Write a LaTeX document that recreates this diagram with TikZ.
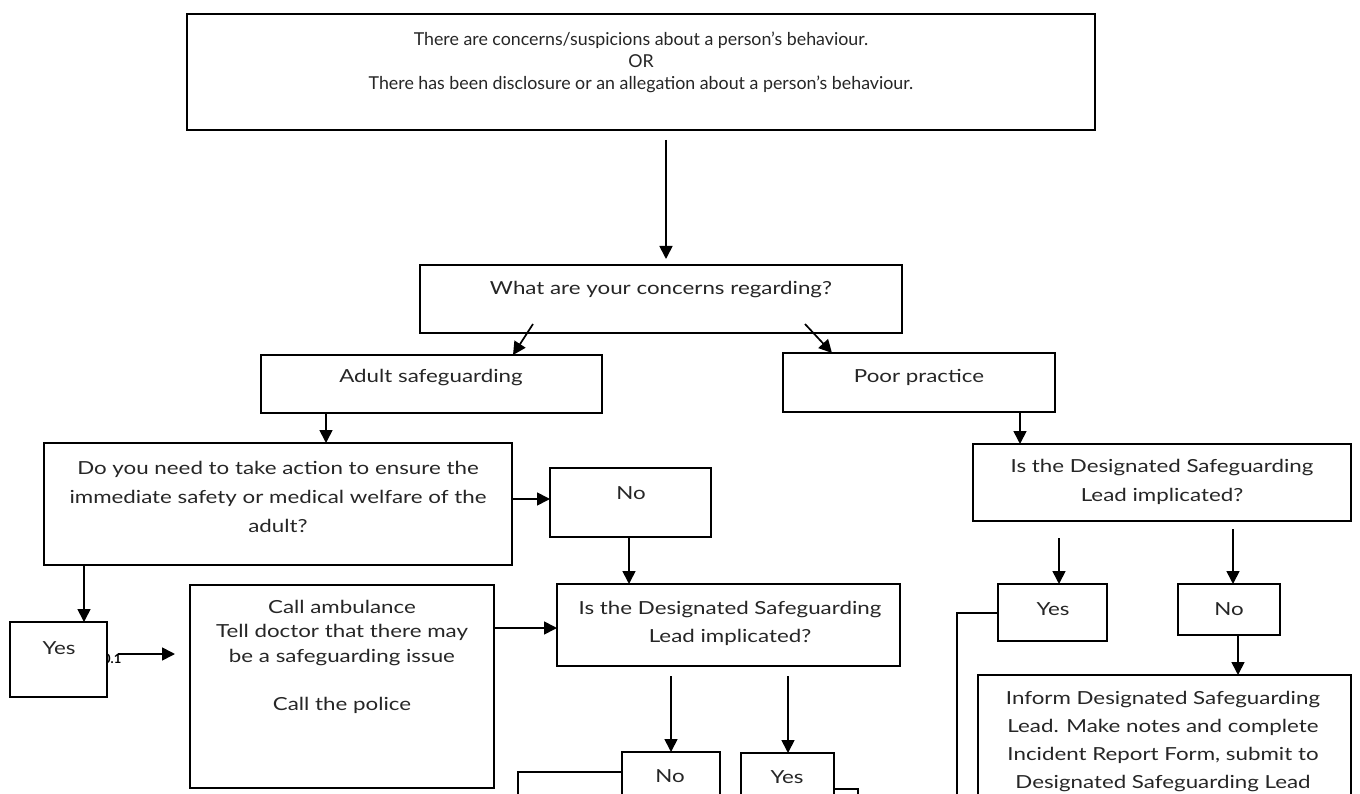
\documentclass[tikz,border=0pt]{standalone}
\usepackage{fontspec}
\setmainfont{Lato}[FakeStretch=1.24]
\newfontfamily\topfont{Lato}
\usetikzlibrary{arrows.meta}
\newcommand\bx[5]{\node[box, minimum width={#4-#2}, minimum height={#5-#3}] (#1) at ({(#2+#4)/2},{(#3+#5)/2}) {};}
\begin{document}
\begin{tikzpicture}[x=1pt,y=-1pt,
  box/.style={draw, line width=1.6pt, fill=white, inner sep=0pt, outer sep=0pt},
  txt/.style={align=center, inner sep=0pt, text=black!85},
  arr/.style={line width=1.7pt, -{Triangle[length=13pt,width=13pt]}},
  ln/.style={line width=1.6pt}]
\useasboundingbox (0,0) rectangle (1360,794);
\fill[white] (0,0) rectangle (1360,794);
% small label partly hidden by the Yes box
\node[inner sep=0pt, anchor=base west, font=\topfont\fontsize{13}{14}\selectfont\bfseries] (lbl) at (103,663) {0.1};
% boxes
\bx{top}{187}{14}{1095}{130}
\bx{what}{420}{265}{902}{333}
\bx{adult}{261}{355}{602}{413}
\bx{poor}{783}{353}{1055}{412}
\bx{do}{44}{443}{512}{565}
\bx{noa}{550}{468}{711}{537}
\bx{yesa}{10}{622}{107}{697}
\bx{call}{190}{585}{494}{788}
\bx{dsla}{557}{584}{900}{666}
\bx{nob}{622}{752}{720}{830}
\bx{yesb}{741}{753}{834}{830}
\bx{dslb}{973}{444}{1351}{521}
\bx{yesc}{998}{584}{1107}{641}
\bx{noc}{1178}{584}{1280}{635}
\bx{inform}{978}{675}{1351}{840}
% texts
\node[txt, font=\topfont\fontsize{17.8}{22}\selectfont] (ttop) at (641,62) {There are concerns/suspicions about a person’s behaviour.\\OR\\There has been disclosure or an allegation about a person’s behaviour.};
\node[txt, font=\fontsize{18}{29}\selectfont] (twhat) at (661,290) {What are your concerns regarding?};
\node[txt, font=\fontsize{18}{29}\selectfont] (tadult) at (431,378) {Adult safeguarding};
\node[txt, font=\fontsize{18}{29}\selectfont] (tpoor) at (919,377) {Poor practice};
\node[txt, font=\fontsize{18}{29}\selectfont] (tdo) at (278,497) {Do you need to take action to ensure the\\immediate safety or medical welfare of the\\adult?};
\node[txt, font=\fontsize{18}{29}\selectfont] (tnoa) at (631,493) {No};
\node[txt, font=\fontsize{18}{29}\selectfont] (tyesa) at (59,648) {Yes};
\node[txt, font=\fontsize{18}{24.3}\selectfont] (tcall) at (342,657) {Call ambulance\\Tell doctor that there may\\be a safeguarding issue\\[24.3pt]Call the police};
\node[txt, font=\fontsize{18}{28}\selectfont] (tdsla) at (730,623) {Is the Designated Safeguarding\\Lead implicated?};
\node[txt, font=\fontsize{18}{29}\selectfont] (tnob) at (670,776) {No};
\node[txt, font=\fontsize{18}{29}\selectfont] (tyesb) at (787,777) {Yes};
\node[txt, font=\fontsize{18}{29}\selectfont] (tdslb) at (1162,482) {Is the Designated Safeguarding\\Lead implicated?};
\node[txt, font=\fontsize{18}{29}\selectfont] (tyesc) at (1053,609) {Yes};
\node[txt, font=\fontsize{18}{29}\selectfont] (tnoc) at (1229,609) {No};
\node[txt, font=\fontsize{18}{27.7}\selectfont] (tinform) at (1163,741.5) {Inform Designated Safeguarding\\Lead. Make notes and complete\\Incident Report Form, submit to\\Designated Safeguarding Lead};
% free ends
\coordinate (s1) at (666,140);
\coordinate (s2) at (533,324);
\coordinate (s3) at (805,324);
\coordinate (s4) at (118,654);
\coordinate (s5) at (671,676);
\coordinate (s6) at (788,676);
\coordinate (s7) at (1059,538);
\coordinate (s8) at (1233,529);
\coordinate (e1) at (518,840);
\coordinate (e2) at (858,840);
\coordinate (e3) at (957,840);
% connectors
\draw[arr] (s1) -- ([yshift=6pt]what.north -| s1);
\draw[arr] (s2) -- (adult.north -| 513,0);
\draw[arr] (s3) -- (poor.north -| 832,0);
\draw[arr] (adult.south -| 326,0) -- (do.north -| 326,0);
\draw[arr] (do.east |- 0,499) -- (noa.west |- 0,499);
\draw[arr] (noa.south -| 629,0) -- (dsla.north -| 629,0);
\draw[arr] (do.south -| 84,0) -- (yesa.north -| 84,0);
\draw[arr] (s4) -- ([xshift=-15pt]call.west |- s4);
\draw[arr] (call.east |- 0,628) -- (dsla.west |- 0,628);
\draw[arr] (s5) -- (nob.north -| s5);
\draw[arr] (s6) -- (yesb.north -| s6);
\draw[ln] (nob.west |- 0,772) -| (e1);
\draw[ln] (yesb.east |- 0,789) -| (e2);
\draw[arr] (poor.south -| 1020,0) -- (dslb.north -| 1020,0);
\draw[arr] (s7) -- (yesc.north -| s7);
\draw[arr] (s8) -- (noc.north -| s8);
\draw[arr] (noc.south -| 1238,0) -- (inform.north -| 1238,0);
\draw[ln] (yesc.west |- 0,613) -| (e3);
\end{tikzpicture}
\end{document}
